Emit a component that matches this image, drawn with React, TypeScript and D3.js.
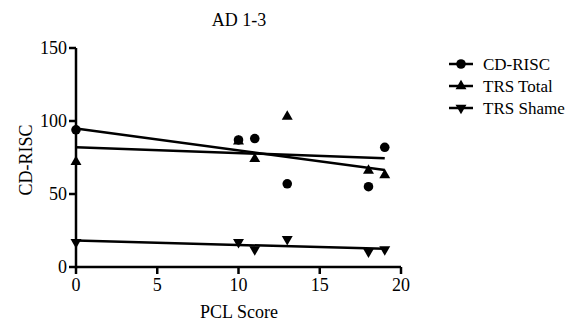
import React from 'react';
import * as d3 from 'd3';

const pclScores = [0, 10, 11, 13, 18, 19];
const cdRisc = [94, 87, 88, 57, 55, 82];
const trsTotal = [72, 86, 74, 103, 66, 63];
const trsShame = [17, 17, 12, 19, 10.5, 12];
const seriesNames = ['CD-RISC', 'TRS Total', 'TRS Shame'];
const xTicks = [0, 5, 10, 15, 20];
const yTicks = [0, 50, 100, 150];

const width = 583;
const height = 322;
const font = 'Times New Roman';

function linearFit(xs: number[], ys: number[]) {
  const mx = d3.mean(xs) as number;
  const my = d3.mean(ys) as number;
  let sxy = 0;
  let sxx = 0;
  xs.forEach((x, i) => {
    sxy += (x - mx) * (ys[i] - my);
    sxx += (x - mx) * (x - mx);
  });
  const slope = sxy / sxx;
  return { slope, intercept: my - slope * mx };
}

const x = d3.scaleLinear().domain([0, 20]).range([76, 401]);
const y = d3.scaleLinear().domain([0, 150]).range([267, 48]);

const symbols = [
  d3.symbol().type(d3.symbolCircle).size(72)() as string,
  d3.symbol().type(d3.symbolTriangle).size(52)() as string,
  d3.symbol().type(d3.symbolTriangle).size(52)() as string,
];
const rotations = [0, 0, 180];
const allSeries = [cdRisc, trsTotal, trsShame];
const lw = 2.5;

const App: React.FC = () => {
  const xMin = d3.min(pclScores) as number;
  const xMax = d3.max(pclScores) as number;
  return (
    <svg width={width} height={height} style={{ position: 'absolute', left: 0, top: 0, background: '#fff' }}>
      {/* axes */}
      <line x1={x(0)} x2={x(20)} y1={y(0)} y2={y(0)} stroke="#000" strokeWidth={lw} />
      <line x1={x(0)} x2={x(0)} y1={y(0) + 1.25} y2={y(150)} stroke="#000" strokeWidth={lw} />
      {xTicks.map((t) => (
        <g key={`x${t}`} transform={`translate(${x(t)},${y(0)})`}>
          <line y2={7} stroke="#000" strokeWidth={lw} />
          <text y={24} textAnchor="middle" fontFamily={font} fontSize={18}>
            {t}
          </text>
        </g>
      ))}
      {yTicks.map((t) => (
        <g key={`y${t}`} transform={`translate(${x(0)},${y(t)})`}>
          <line x2={-7} stroke="#000" strokeWidth={lw} />
          <text x={-9} dy="0.34em" textAnchor="end" fontFamily={font} fontSize={18}>
            {t}
          </text>
        </g>
      ))}

      {/* fit lines and points */}
      {allSeries.map((vals, si) => {
        const fit = linearFit(pclScores, vals);
        return (
          <g key={seriesNames[si]}>
            <line
              x1={x(xMin)}
              y1={y(fit.intercept + fit.slope * xMin)}
              x2={x(xMax)}
              y2={y(fit.intercept + fit.slope * xMax)}
              stroke="#000"
              strokeWidth={lw}
            />
            {vals.map((v, i) => (
              <path
                key={i}
                d={symbols[si]}
                fill="#000"
                transform={`translate(${x(pclScores[i])},${y(v)}) rotate(${rotations[si]})`}
              />
            ))}
          </g>
        );
      })}

      {/* legend */}
      <g transform="translate(449,64)">
        {seriesNames.map((name, i) => (
          <g key={name} transform={`translate(0,${i * 22})`}>
            <line x1={0} x2={24} stroke="#000" strokeWidth={lw} />
            <path d={symbols[i]} fill="#000" transform={`translate(12,0) rotate(${rotations[i]})`} />
            <text x={34} y={6} fontFamily={font} fontSize={17}>
              {name}
            </text>
          </g>
        ))}
      </g>

      {/* titles */}
      <text x={239} y={26} textAnchor="middle" fontFamily={font} fontSize={18}>
        AD 1-3
      </text>
      <text x={239} y={318} textAnchor="middle" fontFamily={font} fontSize={18}>
        PCL Score
      </text>
      <text transform="translate(32,160) rotate(-90)" textAnchor="middle" fontFamily={font} fontSize={18}>
        CD-RISC
      </text>
    </svg>
  );
};

export default App;
